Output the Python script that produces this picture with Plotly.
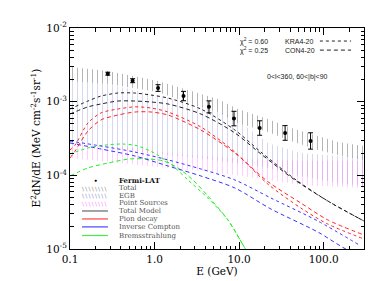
import plotly.graph_objects as go

# ---------------- data ----------------
fermi_E = [0.28, 0.55, 1.1, 2.2, 4.4, 8.7, 17.5, 35, 70]
fermi_F = [2.40e-3, 1.93e-3, 1.53e-3, 1.19e-3, 8.5e-4, 5.9e-4, 4.4e-4, 3.76e-4, 2.93e-4]
fermi_err_hi = [1.1e-4, 1.2e-4, 1.7e-4, 1.9e-4, 1.75e-4, 1.5e-4, 1.1e-4, 0.97e-4, 0.85e-4]
fermi_err_lo = [1.1e-4, 1.2e-4, 1.5e-4, 1.6e-4, 1.45e-4, 1.2e-4, 0.9e-4, 0.77e-4, 0.66e-4]

total_band_E = [0.1, 0.281, 1.10, 2.48, 5.61, 9.68, 21.9, 37.8, 85.3, 147, 299]
total_band_hi = [2.96e-3, 2.61e-3, 1.91e-3, 1.44e-3, 1.09e-3, 7.95e-4, 5.82e-4, 4.53e-4, 3.42e-4, 2.84e-4, 2.50e-4]
total_band_lo = [1.91e-3, 1.74e-3, 1.35e-3, 9.6e-4, 7.24e-4, 5.13e-4, 3.88e-4, 3.02e-4, 2.21e-4, 1.89e-4, 1.62e-4]

egb_E = [0.1, 0.232, 0.586, 1.44, 3.53, 8.92, 21.9, 53.7, 147, 299]
egb_hi = [1.91e-3, 1.79e-3, 1.44e-3, 1.12e-3, 8.7e-4, 6.0e-4, 2.75e-4, 2.01e-4, 1.83e-4, 1.78e-4]
egb_lo = [2.58e-4, 2.50e-4, 2.14e-4, 1.89e-4, 1.72e-4, 1.47e-4, 1.26e-4, 9.8e-5, 7.87e-5, 7.17e-5]

ps_E = [0.1, 0.586, 1.44, 3.53, 8.92, 21.9, 53.7, 299]
ps_hi = [2.58e-4, 2.35e-4, 2.01e-4, 1.83e-4, 1.72e-4, 1.62e-4, 1.57e-4, 1.57e-4]
ps_lo = [1.72e-4, 1.38e-4, 1.26e-4, 1.15e-4, 1.01e-4, 8.65e-5, 7.4e-5, 6.73e-5]

tot_E = [0.1, 0.163, 0.232, 0.369, 0.586, 0.906, 1.44, 3.53, 8.92, 18.1, 45.7, 112, 299]
tot_kra = [7.95e-4, 1.02e-3, 1.19e-3, 1.31e-3, 1.31e-3, 1.23e-3, 1.12e-3, 7.95e-4, 4.12e-4, 2.07e-4, 8.9e-5, 4.48e-5, 2.40e-5]
tot_con = [6.8e-4, 8.5e-4, 9.3e-4, 1.02e-3, 1.02e-3, 9.9e-4, 9.3e-4, 6.8e-4, 3.76e-4, 1.95e-4, 8.65e-5, 4.48e-5, 2.40e-5]

pi_E = [0.1, 0.115, 0.163, 0.232, 0.369, 0.586, 0.906, 1.44, 3.53, 8.92, 21.9, 53.7, 112, 299]
pi_kra = [2.21e-4, 2.58e-4, 5.13e-4, 7.02e-4, 7.95e-4, 8.5e-4, 8.2e-4, 7.24e-4, 4.53e-4, 2.07e-4, 7.6e-5, 3.6e-5, 2.18e-5, 1.37e-5]
pi_con = [1.72e-4, 2.14e-4, 4.0e-4, 5.64e-4, 6.59e-4, 7.24e-4, 7.24e-4, 6.59e-4, 4.12e-4, 2.01e-4, 8.2e-5, 4.21e-5, 2.48e-5, 1.55e-5]

ic_E = [0.1, 0.232, 0.586, 1.44, 3.53, 8.92, 23.8, 85.3, 275]
ic_kra = [2.92e-4, 2.50e-4, 2.07e-4, 1.62e-4, 1.22e-4, 8.65e-5, 4.92e-5, 2.40e-5, 1.10e-5]
ic_con_E = [0.1, 0.232, 0.586, 1.44, 3.53, 8.92, 23.8, 85.3, 193, 299]
ic_con = [2.75e-4, 2.28e-4, 1.83e-4, 1.34e-4, 9.8e-5, 6.73e-5, 3.49e-5, 1.70e-5, 9.7e-6, 8.4e-6]

br_kra_E = [0.1, 0.163, 0.267, 0.423, 0.637, 1.04, 1.65, 2.48, 4.27, 7.37, 11.7, 14.0]
br_kra = [1.95e-4, 2.35e-4, 2.58e-4, 2.66e-4, 2.50e-4, 1.95e-4, 1.34e-4, 8.65e-5, 4.92e-5, 2.48e-5, 1.03e-5, 7.5e-6]
br_con_E = [0.1, 0.163, 0.281, 0.511, 0.836, 1.26, 1.89, 2.84, 4.27, 7.37, 11.7, 14.0]
br_con = [9.8e-5, 1.26e-4, 1.47e-4, 1.67e-4, 1.67e-4, 1.57e-4, 1.26e-4, 8.65e-5, 5.25e-5, 2.48e-5, 1.03e-5, 7.5e-6]

x_tickvals = [0.1, 1, 10, 100]
x_ticktext = ["0.1", "1.0", "10.0", "100.0"]
y_tickvals = [1e-5, 1e-4, 1e-3, 1e-2]
y_ticktext = ["10<sup>-5</sup>", "10<sup>-4</sup>", "10<sup>-3</sup>", "10<sup>-2</sup>"]
x_minor = [0.2, 0.3, 0.4, 0.5, 0.6, 0.7, 0.8, 0.9, 2, 3, 4, 5, 6, 7, 8, 9,
           20, 30, 40, 50, 60, 70, 80, 90, 200, 300]
y_minor = [m * d for d in (1e-5, 1e-4, 1e-3) for m in (2, 3, 4, 5, 6, 7, 8, 9)]

legend_rows = ["Fermi-LAT", "Total", "EGB", "Point Sources", "Total Model",
               "Pion decay", "Inverse Compton", "Bremsstrahlung"]

# ---------------- figure ----------------
fig = go.Figure()

def band(E, lo, hi, color):
    fig.add_trace(go.Scatter(x=E, y=lo, mode="lines", line=dict(width=0),
                             showlegend=False, hoverinfo="skip"))
    fig.add_trace(go.Scatter(x=E, y=hi, mode="lines", line=dict(width=0),
                             fill="tonexty", fillcolor="rgba(0,0,0,0)",
                             fillpattern=dict(shape="|", size=5, solidity=0.2,
                                              fgcolor=color, bgcolor="rgba(0,0,0,0)"),
                             showlegend=False, hoverinfo="skip"))

band(total_band_E, total_band_lo, total_band_hi, "rgba(70,70,70,0.8)")
band(egb_E, egb_lo, egb_hi, "rgba(120,120,200,0.6)")
band(ps_E, ps_lo, ps_hi, "rgba(255,110,255,0.7)")

def line(E, F, color, dash):
    fig.add_trace(go.Scatter(x=E, y=F, mode="lines",
                             line=dict(color=color, width=1, dash=dash, shape="spline",
                                       smoothing=0.8),
                             showlegend=False))

line(br_kra_E, br_kra, "#22ee22", "dot")
line(br_con_E, br_con, "#22ee22", "4px,3px")
line(ic_E, ic_kra, "#3333ff", "dot")
line(ic_con_E, ic_con, "#3333ff", "4px,3px")
line(pi_E, pi_kra, "#ff2222", "dot")
line(pi_E, pi_con, "#ff2222", "4px,3px")
line(tot_E, tot_kra, "#222222", "dot")
line(tot_E, tot_con, "#222222", "4px,3px")

fig.add_trace(go.Scatter(
    x=fermi_E, y=fermi_F, mode="markers",
    marker=dict(color="black", size=4),
    error_y=dict(type="data", array=fermi_err_hi, arrayminus=fermi_err_lo,
                 color="black", thickness=1, width=2.5),
    showlegend=False))

# ---------------- legend (manual) ----------------
row_y = [0.312, 0.276, 0.240, 0.206, 0.172, 0.136, 0.100, 0.061]
sym_x0, sym_x1, lab_x = 0.041, 0.129, 0.160
serif = "DejaVu Serif"
ann = []
shapes = []
for i, name in enumerate(legend_rows):
    bold = name == "Fermi-LAT"
    ann.append(dict(xref="paper", yref="paper", x=lab_x, y=row_y[i], xanchor="left",
                    yanchor="middle", showarrow=False,
                    text=("<b>%s</b>" % name) if bold else name,
                    font=dict(family=serif, size=7, color="#111" if bold else "#555")))
# symbols
ann.append(dict(xref="paper", yref="paper", x=0.088, y=row_y[0], showarrow=False,
                text="●", font=dict(size=5, color="black"), xanchor="center", yanchor="middle"))
hatch_cols = ["#888888", "#8888cc", "#ff77ff"]
hatch_txt = "\u2009".join(["\\"] * 8)
for k, c in enumerate(hatch_cols):
    ann.append(dict(xref="paper", yref="paper", x=(sym_x0 + sym_x1) / 2, y=row_y[1 + k],
                    showarrow=False, text=hatch_txt, xanchor="center", yanchor="middle",
                    font=dict(family="DejaVu Sans", size=6, color=c)))
line_cols = ["#666666", "#ff4444", "#4444ff", "#44ee44"]
for k, c in enumerate(line_cols):
    yy = row_y[4 + k]
    shapes.append(dict(type="line", xref="paper", yref="paper", x0=sym_x0, x1=sym_x1,
                       y0=yy, y1=yy, line=dict(color=c, width=1.2)))

# top-right annotations
sans = "Liberation Sans"
ann.append(dict(xref="paper", yref="paper", x=0.571, y=0.941, xanchor="left", yanchor="middle",
                showarrow=False, text="χ<sup>2</sup> = 0.60",
                font=dict(family=sans, size=7, color="#222")))
ann.append(dict(xref="paper", yref="paper", x=0.571, y=0.900, xanchor="left", yanchor="middle",
                showarrow=False, text="χ<sup>2</sup> = 0.25",
                font=dict(family=sans, size=7, color="#222")))
ann.append(dict(xref="paper", yref="paper", x=0.724, y=0.941, xanchor="left", yanchor="middle",
                showarrow=False, text="KRA4-20", font=dict(family=sans, size=7, color="#222")))
ann.append(dict(xref="paper", yref="paper", x=0.724, y=0.900, xanchor="left", yanchor="middle",
                showarrow=False, text="CON4-20", font=dict(family=sans, size=7, color="#222")))
shapes.append(dict(type="line", xref="paper", yref="paper", x0=0.850, x1=0.956,
                   y0=0.941, y1=0.941, line=dict(color="#222", width=1, dash="dot")))
shapes.append(dict(type="line", xref="paper", yref="paper", x0=0.850, x1=0.956,
                   y0=0.900, y1=0.900, line=dict(color="#222", width=1, dash="4px,3px")))
ann.append(dict(xref="paper", yref="paper", x=0.663, y=0.778, xanchor="left", yanchor="middle",
                showarrow=False, text="0&lt;l&lt;360, 60&lt;|b|&lt;90",
                font=dict(family=sans, size=7, color="#222")))

# y-axis title as rotated annotation (placed like the reference)
ann.append(dict(xref="paper", yref="paper", x=-0.119, y=0.5, xanchor="center", yanchor="middle",
                showarrow=False, textangle=-90,
                text="E<sup>2</sup>dN/dE (MeV cm<sup>-2</sup>s<sup>-1</sup>sr<sup>-1</sup>)",
                font=dict(family=serif, size=10.5, color="black")))

axis_common = dict(showline=True, linecolor="black", linewidth=1, mirror="ticks",
                   ticks="inside", ticklen=7, tickcolor="black", tickwidth=1,
                   showgrid=False, zeroline=False,
                   tickfont=dict(family=serif, size=10.5, color="black"))

fig.update_layout(
    width=374, height=281,
    margin=dict(l=62, r=18, t=20, b=40),
    paper_bgcolor="white", plot_bgcolor="white",
    showlegend=False,
    annotations=ann, shapes=shapes,
    xaxis=dict(type="log", range=[-1, 2.4771], tickmode="array",
               tickvals=x_tickvals, ticktext=x_ticktext,
               minor=dict(tickmode="array", tickvals=x_minor, ticks="inside",
                          ticklen=3.5, tickcolor="black", tickwidth=1),
               title=dict(text="E (GeV)", font=dict(family=serif, size=10.5, color="black"),
                          standoff=4),
               **axis_common),
    yaxis=dict(type="log", range=[-5, -2], tickmode="array",
               tickvals=y_tickvals, ticktext=y_ticktext,
               minor=dict(tickmode="array", tickvals=y_minor, ticks="inside",
                          ticklen=3.5, tickcolor="black", tickwidth=1),
               **axis_common),
)

fig.write_html("out.html")
